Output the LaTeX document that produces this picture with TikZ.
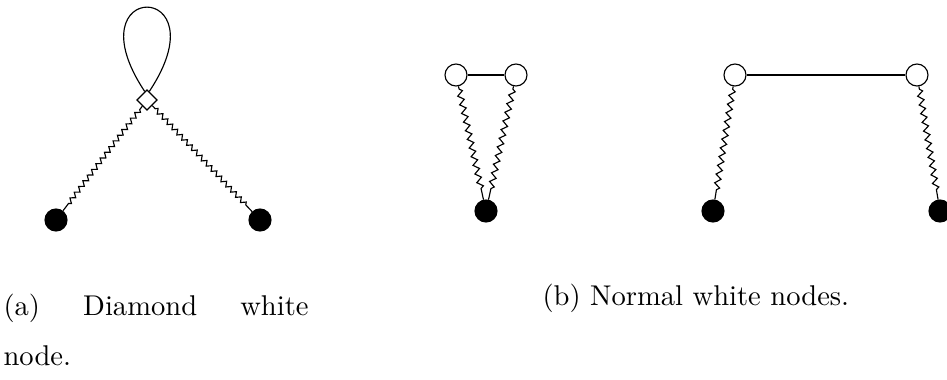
\documentclass[tikz,border=0pt]{standalone}
\usetikzlibrary{shapes.geometric,decorations.pathmorphing}
\begin{document}
\begin{tikzpicture}[x=0.35pt,y=0.35pt,
  blackv/.style={circle,fill=black,draw=black,inner sep=0pt,minimum size=7.7pt},
  whitev/.style={circle,fill=white,draw=black,inner sep=0pt,minimum size=7.7pt},
  diamv/.style={diamond,fill=white,draw=black,inner sep=0pt,minimum size=7.2pt},
  wavya/.style={decorate,decoration={zigzag,segment length=2.5pt,amplitude=0.8pt,pre length=1.5pt,post length=3pt}},
  wavyb/.style={decorate,decoration={zigzag,segment length=3.1pt,amplitude=1pt,pre length=1pt,post length=3pt}},
  caption/.style={anchor=base west,inner sep=0pt}]
\useasboundingbox (0,0) rectangle (947,379);

% (a) diamond white node with a self loop
\node[diamv] (d) at (147,279) {};
\node[blackv] (a1) at (56,159) {};
\node[blackv] (a2) at (260,159) {};
\draw (d.105) .. controls (70,400) and (224,400) .. (d.75);
\draw[wavya] (d) -- (a1);
\draw[wavya] (d) -- (a2);

% (b) normal white nodes, shared black node
\node[whitev] (b1) at (456,304) {};
\node[whitev] (b2) at (516,304) {};
\node[blackv] (b3) at (486,168) {};
\draw (b1) -- (b2);
\draw[wavyb] (b1) -- (b3);
\draw[wavyb] (b2) -- (b3);

% (b) normal white nodes, separate black nodes
\node[whitev] (c1) at (735,304) {};
\node[whitev] (c2) at (917,304) {};
\node[blackv] (c3) at (713,168) {};
\node[blackv] (c4) at (940,168) {};
\draw (c1) -- (c2);
\draw[wavyb] (c1) -- (c3);
\draw[wavyb] (c2) -- (c4);

% captions
\node[caption] (capa) at (3,64) {\hbox to 106.75pt{(a)\hfill Diamond\hfill white}};
\node[caption] (capa2) at (3,14) {node.};
\node[caption] (capb) at (542,74) {(b) Normal white nodes.};
\end{tikzpicture}
\end{document}
